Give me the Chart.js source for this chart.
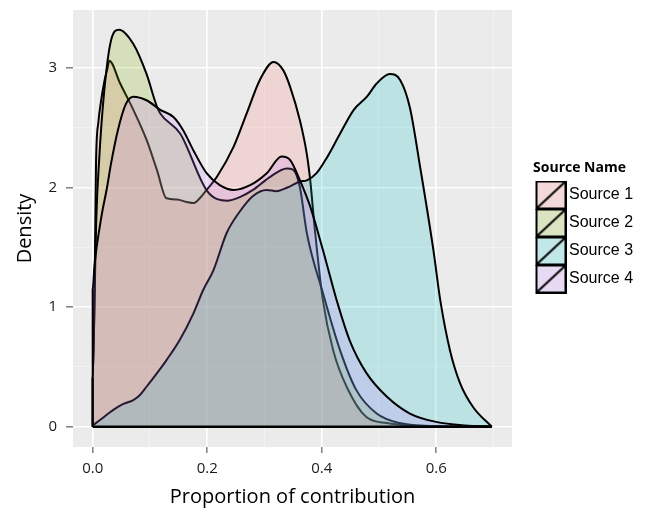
<!DOCTYPE html>
<html><head><meta charset="utf-8">
<script src="https://cdn.jsdelivr.net/npm/chart.js@4.4.1/dist/chart.umd.min.js"></script>
<style>html,body{margin:0;padding:0;background:#fff}#wrap{width:647px;height:509px}</style>
</head><body><div id="wrap"><canvas id="c" width="647" height="509"></canvas></div>
<script>
const seriesNames = ['Source 1', 'Source 2', 'Source 3', 'Source 4'];
const fillRGB = [[248,118,109],[124,174,0],[0,191,196],[199,124,255]];

const s1x = [0, 0, 0.003, 0.0058, 0.01, 0.0145, 0.02, 0.026, 0.029, 0.048, 0.071, 0.094, 0.112, 0.129, 0.147, 0.164, 0.176, 0.187, 0.199, 0.217, 0.246, 0.269, 0.292, 0.316, 0.333, 0.345, 0.362, 0.374, 0.38, 0.388, 0.402, 0.42, 0.444, 0.478, 0.514, 0.55, 0.6, 0.697];
const s1y = [0, 0.4, 1.0, 2.2, 2.55, 2.72, 2.88, 3.0, 3.06, 2.87, 2.65, 2.4, 2.15, 1.91, 1.9, 1.88, 1.87, 1.91, 1.98, 2.09, 2.34, 2.62, 2.9, 3.05, 2.98, 2.84, 2.56, 2.28, 2.06, 1.65, 1.06, 0.64, 0.33, 0.08, 0.03, 0.01, 0.003, 0];

const s2x = [0, 0, 0.003, 0.006, 0.0115, 0.02, 0.032, 0.046, 0.071, 0.094, 0.112, 0.118, 0.153, 0.2, 0.235, 0.257, 0.28, 0.31, 0.339, 0.35, 0.362, 0.374, 0.402, 0.432, 0.46, 0.496, 0.536, 0.6, 0.697];
const s2y = [0, 0.4, 1.0, 1.7, 2.25, 2.8, 3.23, 3.32, 3.2, 2.95, 2.68, 2.62, 2.45, 1.97, 1.89, 1.92, 1.98, 2.09, 2.16, 2.15, 2.0, 1.62, 1.12, 0.64, 0.31, 0.11, 0.03, 0.005, 0];

const s3x = [0, 0.0128, 0.036, 0.0535, 0.071, 0.0826, 0.094, 0.112, 0.129, 0.152, 0.176, 0.193, 0.211, 0.234, 0.257, 0.28, 0.304, 0.321, 0.34, 0.362, 0.374, 0.391, 0.409, 0.432, 0.456, 0.479, 0.496, 0.519, 0.537, 0.554, 0.572, 0.595, 0.607, 0.624, 0.642, 0.665, 0.697];
const s3y = [0.01, 0.056, 0.14, 0.19, 0.223, 0.265, 0.334, 0.446, 0.557, 0.725, 0.948, 1.143, 1.31, 1.62, 1.8, 1.93, 1.98, 1.97, 2.0, 2.05, 2.06, 2.12, 2.25, 2.45, 2.65, 2.76, 2.87, 2.95, 2.9, 2.67, 2.17, 1.48, 1.06, 0.64, 0.36, 0.16, 0];

const s4x = [0, 0, 0.003, 0.015, 0.025, 0.032, 0.044, 0.058, 0.071, 0.094, 0.118, 0.141, 0.158, 0.176, 0.199, 0.222, 0.246, 0.275, 0.304, 0.33, 0.345, 0.362, 0.38, 0.402, 0.426, 0.449, 0.478, 0.514, 0.554, 0.6, 0.65, 0.697];
const s4y = [0, 1.15, 1.34, 1.75, 2.0, 2.2, 2.48, 2.7, 2.76, 2.73, 2.65, 2.59, 2.48, 2.31, 2.12, 2.02, 1.98, 2.02, 2.12, 2.26, 2.23, 2.06, 1.84, 1.48, 1.06, 0.72, 0.45, 0.25, 0.11, 0.04, 0.01, 0];

const xMajorTicks = [0, 0.2, 0.4, 0.6];
const xMinorTicks = [0.1, 0.3, 0.5, 0.7];
const yMajorTicks = [0, 1, 2, 3];
const yMinorTicks = [0.5, 1.5, 2.5];
const xRange = [-0.0344, 0.7324];
const yRange = [-0.17, 3.485];

const seriesX = [s1x, s2x, s3x, s4x];
const seriesY = [s1y, s2y, s3y, s4y];
const baseX = [s1x[0], s3x[s3x.length - 1]];

function rgba(c, a) { return 'rgba(' + c[0] + ',' + c[1] + ',' + c[2] + ',' + a + ')'; }
function isIn(list, v) { return list.some(t => Math.abs(t - v) < 1e-6); }

function keyImage(c) {
  const cv = document.createElement('canvas');
  cv.width = 48; cv.height = 29;
  const g = cv.getContext('2d');
  const ox = 17;
  g.fillStyle = '#F2F2F2'; g.fillRect(ox, 0, 31, 29);
  g.fillStyle = rgba(c, 0.2); g.fillRect(ox, 0, 31, 29);
  g.strokeStyle = '#000'; g.lineWidth = 2;
  g.strokeRect(ox + 1, 1, 29, 27);
  g.beginPath(); g.moveTo(ox + 1, 28); g.lineTo(ox + 30, 1); g.stroke();
  return cv;
}

const datasets = seriesNames.map((name, i) => ({
  label: name,
  data: seriesX[i].map((x, j) => ({x: x, y: seriesY[i][j]})),
  borderColor: '#000',
  borderWidth: 2,
  backgroundColor: rgba(fillRGB[i], 0.2),
  fill: 'origin',
  pointRadius: 0,
  cubicInterpolationMode: 'monotone',
  order: 4 - i
}));
datasets.push({
  label: 'baseline',
  data: baseX.map(x => ({x: x, y: 0})),
  borderColor: '#000',
  borderWidth: 2.5,
  pointRadius: 0,
  fill: false,
  order: 0
});

const bgPlugin = {
  id: 'panelBg',
  beforeDraw(chart) {
    const {ctx, chartArea: a} = chart;
    ctx.save();
    ctx.fillStyle = '#fff';
    ctx.fillRect(0, 0, chart.width, chart.height);
    ctx.fillStyle = '#EBEBEB';
    ctx.fillRect(a.left, a.top, a.right - a.left, a.bottom - a.top);
    ctx.restore();
  }
};
const legendWidthPlugin = {
  id: 'legendWidth',
  beforeLayout(chart) {
    const lg = chart.legend;
    if (lg && !lg._patched) {
      const orig = lg.fit.bind(lg);
      lg.fit = function () { orig(); this.width = 135; };
      lg._patched = true;
    }
  }
};

const tickFont = {family: 'Open Sans', size: 15};
new Chart(document.getElementById('c'), {
  type: 'line',
  data: {datasets: datasets},
  plugins: [bgPlugin, legendWidthPlugin],
  options: {
    responsive: false,
    animation: false,
    devicePixelRatio: 1,
    layout: {padding: {top: 10, right: 0, bottom: 0, left: 0}},
    plugins: {
      tooltip: {enabled: false},
      legend: {
        position: 'right',
        align: 'start',
        title: {display: true, text: 'Source Name', color: '#000',
          font: {family: 'Open Sans', size: 14, weight: 'bold', lineHeight: 1}, padding: {top: 151, bottom: 0}},
        labels: {
          usePointStyle: true,
          pointStyleWidth: 37,
          padding: 12,
          color: '#000',
          font: {family: 'Liberation Sans', size: 16},
          sort: (a, b) => a.datasetIndex - b.datasetIndex,
          generateLabels: () => seriesNames.map((n, i) => ({
            text: n, datasetIndex: i, pointStyle: keyImage(fillRGB[i]),
            fillStyle: rgba(fillRGB[i], 0.2), strokeStyle: '#000', lineWidth: 0, hidden: false
          }))
        },
        onClick: () => {}
      }
    },
    scales: {
      x: {
        type: 'linear', min: xRange[0], max: xRange[1],
        afterBuildTicks: s => { s.ticks = xMajorTicks.concat(xMinorTicks).sort((a, b) => a - b).map(v => ({value: v})); },
        afterFit: s => { s.height = 62; s.paddingLeft = 0; s.paddingRight = 0; },
        border: {display: false},
        grid: {
          color: c => isIn(xMajorTicks, c.tick.value) ? '#FFFFFF' : '#F5F5F5',
          lineWidth: c => isIn(xMajorTicks, c.tick.value) ? 1.6 : 0.8,
          tickColor: c => isIn(xMajorTicks, c.tick.value) ? '#7F7F7F' : 'rgba(0,0,0,0)',
          tickLength: 6, tickWidth: 1.5
        },
        ticks: {
          autoSkip: false, maxRotation: 0, padding: 7, color: '#1a1a1a', font: tickFont,
          callback: v => isIn(xMajorTicks, v) ? v.toFixed(1) : ''
        },
        title: {display: true, text: 'Proportion of contribution', color: '#000',
          font: {family: 'Open Sans', size: 20}, padding: {top: 0, bottom: 0}}
      },
      y: {
        type: 'linear', min: yRange[0], max: yRange[1],
        afterBuildTicks: s => { s.ticks = yMajorTicks.concat(yMinorTicks).sort((a, b) => a - b).map(v => ({value: v})); },
        afterFit: s => { s.width = 73; s.paddingTop = 0; s.paddingBottom = 0; },
        border: {display: false},
        grid: {
          color: c => isIn(yMajorTicks, c.tick.value) ? '#FFFFFF' : '#F5F5F5',
          lineWidth: c => isIn(yMajorTicks, c.tick.value) ? 1.6 : 0.8,
          tickColor: c => isIn(yMajorTicks, c.tick.value) ? '#7F7F7F' : 'rgba(0,0,0,0)',
          tickLength: 7, tickWidth: 1.5
        },
        ticks: {
          autoSkip: false, padding: 9, color: '#1a1a1a', font: tickFont,
          callback: v => isIn(yMajorTicks, v) ? String(v) : ''
        },
        title: {display: true, text: 'Density', color: '#000',
          font: {family: 'Open Sans', size: 20}, padding: {top: 13, bottom: 0}}
      }
    }
  }
});
</script></body></html>
